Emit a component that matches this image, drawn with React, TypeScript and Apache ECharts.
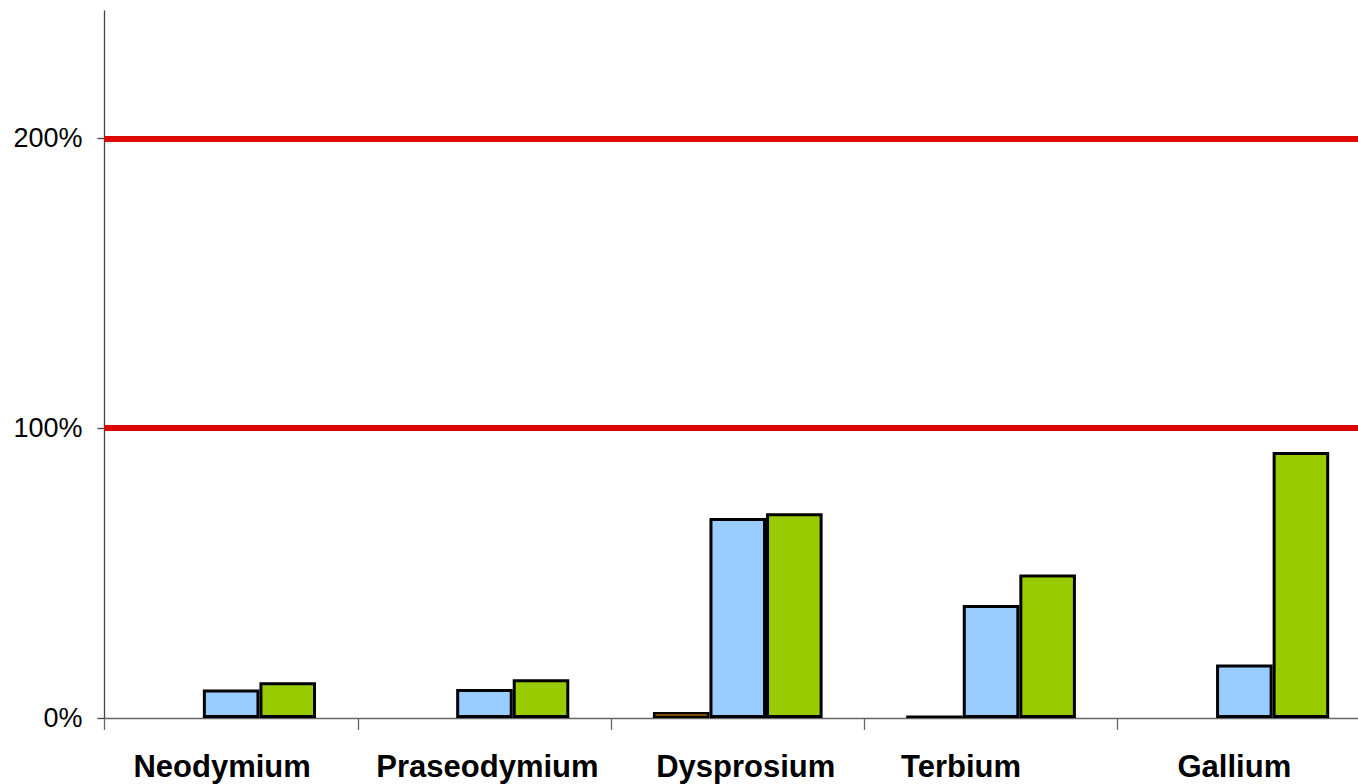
import React, { useEffect, useRef } from "react";
import * as echarts from "echarts";

const categories = ["Neodymium", "Praseodymium", "Dysprosium", "Terbium", "Gallium"];
const seriesOrange = [null, null, 0.021, 0.009, null];
const seriesBlue = [0.098, 0.1, 0.69, 0.39, 0.185];
const seriesGreen = [0.123, 0.134, 0.707, 0.495, 0.918];
const yTicks = [0, 1, 2];
const thresholds = [1, 2];
// horizontal nudges of category labels (px), as in the reference layout
const labelShift = [-9, 3, 8, -30, -10];

export default function App() {
  const ref = useRef<HTMLDivElement>(null);
  useEffect(() => {
    document.body.style.margin = "0";
    const chart = echarts.init(ref.current!, null, { renderer: "svg" });
    const barBase = {
      type: "bar",
      barGap: "0%",
      barCategoryGap: "33%",
      itemStyle: { borderColor: "#000", borderWidth: 3 },
    };
    chart.setOption({
      animation: false,
      backgroundColor: "#fff",
      grid: { left: 104.5, top: 11, right: 1, bottom: 66, containLabel: false },
      xAxis: {
        type: "category",
        data: categories.map((c, i) => ({
          value: c,
          textStyle: {
            padding: [0, labelShift[i] < 0 ? -2 * labelShift[i] : 0, 0, labelShift[i] > 0 ? 2 * labelShift[i] : 0],
          },
        })),
        boundaryGap: true,
        axisLine: { lineStyle: { color: "#666", width: 1.3 } },
        axisTick: { show: true, length: 12, interval: 0, lineStyle: { color: "#666", width: 1.3 } },
        axisLabel: {
          interval: 0,
          margin: 33,
          color: "#000",
          fontFamily: "Liberation Sans, Arial, sans-serif",
          fontWeight: "bold",
          fontSize: 31,
        },
      },
      yAxis: {
        type: "value",
        min: 0,
        max: 2.44,
        interval: 1,
        splitLine: { show: false },
        axisLine: { show: true, lineStyle: { color: "#444", width: 1.3 } },
        axisTick: { show: true, length: 7, customValues: yTicks, lineStyle: { color: "#444", width: 1.3 } },
        axisLabel: {
          customValues: yTicks,
          margin: 22,
          color: "#000",
          fontFamily: "Liberation Sans, Arial, sans-serif",
          fontSize: 27,
          formatter: (v: number) => Math.round(v * 100) + "%",
        },
      },
      series: [
        {
          ...barBase,
          name: "orange",
          data: seriesOrange,
          itemStyle: { borderColor: "#000", borderWidth: 2.5, color: "#FF9900" },
          markLine: {
            silent: true,
            symbol: "none",
            label: { show: false },
            lineStyle: { color: "#DD0806", width: 6, type: "solid" },
            data: thresholds.map((t) => ({ yAxis: t })),
          },
        },
        { ...barBase, name: "blue", data: seriesBlue, itemStyle: { ...barBase.itemStyle, color: "#99CCFF" } },
        { ...barBase, name: "green", data: seriesGreen, itemStyle: { ...barBase.itemStyle, color: "#99CC00" } },
      ],
    });
    return () => chart.dispose();
  }, []);
  return (
    <div style={{ width: 1358, height: 784, overflow: "hidden", position: "relative" }}>
      <div ref={ref} style={{ width: 1372, height: 784, position: "absolute", left: 0, top: 0 }} />
    </div>
  );
}
